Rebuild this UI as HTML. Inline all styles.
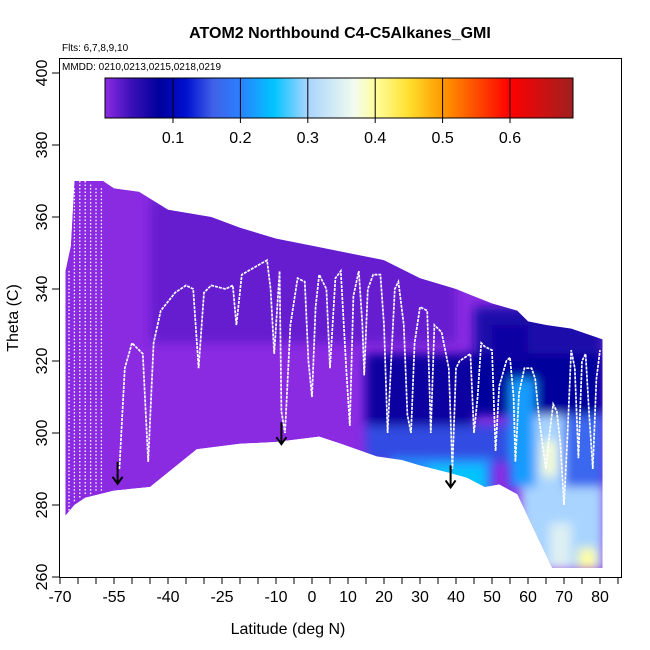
<!DOCTYPE html>
<html><head><meta charset="utf-8"><style>
html,body{margin:0;padding:0;background:#fff}
svg{display:block;font-family:"Liberation Sans",Arial,sans-serif}
</style></head><body>
<svg id="chart" width="650" height="650" viewBox="0 0 650 650">
<text x="340" y="38" text-anchor="middle" font-size="16" font-weight="bold">ATOM2 Northbound C4-C5Alkanes_GMI</text>
<text x="62" y="51" font-size="10">Flts: 6,7,8,9,10</text>
<text x="62" y="70" font-size="10">MMDD: 0210,0213,0215,0218,0219</text>
<text x="288" y="634" text-anchor="middle" font-size="16">Latitude (deg N)</text>
<text transform="translate(18,318) rotate(-90)" text-anchor="middle" font-size="16">Theta (C)</text>
<g id="plot"></g>
</svg>
<script>
const colorStops=[0,0.04,0.08,0.12,0.16,0.2,0.25,0.3,0.37,0.4,0.45,0.5,0.6,0.7];
const colorHex=["#8a2be2","#3a10b8","#00009c","#0010d0","#4060e8","#2a80ff","#00c4ff","#a8d4ff","#f2fbee","#ffffa0","#ffe030","#ff9a00","#ff0000","#a02020"];
const upperLat=[-68.5,-67,-66,-58,-55,-48,-40,-28,-20,-10,0,10,20,30,40,50,57,60,65,72,80.7];
const upperTh=[345,352,370,370,368,367,362,360,357,354,352,350,348,343,340,336,334,331,330,329,326];
const lowerLat=[80.7,66.7,57,52,48,43,38,30,25,18,8,2,-10,-20,-32,-45,-55,-63,-66,-68.5];
const lowerTh=[262.5,262.5,283,285.7,285,287.6,289,291,292.5,293.5,297,299,297.5,297,295.5,285,284,282,280,277];
// cells: lat0, lat1, theta0, theta1, value
const cellLat0=[-45,15,15,22,32,45,45,55,62,64,70,58,66,74,50];
const cellLat1=[ 40,45,55,50,48,81,81,62,70,68,81,81,72,79,60];
const cellTh0 =[325,302,292,280,280,305,322,285,285,288,285,262,262,262,320];
const cellTh1 =[365,322,302,293,291,322,335,315,305,298,305,285,275,268,330];
const cellVal =[0.018,0.075,0.15,0.21,0.25,0.08,0.06,0.22,0.3,0.38,0.17,0.3,0.35,0.4,0.07];
const trackLat=[-53.5,-52,-50,-47,-45.5,-44,-42,-38,-35,-33,-31.5,-30,-28,-24,-22,-21,-19.5,-16,-12.5,-11.5,-10.5,-9,-8.5,-7.5,-6,-4,-2,-1,0,1,2,4,5,6.5,8,9.5,10.5,11.5,13,14,14.5,15.5,17,19,20,21,22,23,24,25.5,26.5,27.5,28.5,30,32,33,34,36,38,39,40,41,44,45,46,47,48,50,51,52,54,55,56,56.5,57.5,59,61,62,63,64,65,66,67,68,69,70,71,72,73,74,75,76,77,78,79,80];
const trackTh=[290,318,325,322,292,325,334,339,341,340,318,339,341,340,341,330,344,346,348,340,322,345,306,300,330,343,342,320,310,335,344,340,318,343,345,318,302,338,345,330,316,340,344,344,330,300,320,340,342,330,305,300,325,335,334,300,330,328,318,290,318,320,322,300,310,325,324,323,295,313,320,321,310,292,311,318,318,315,305,297,290,300,308,306,297,280,300,323,318,293,320,322,305,290,315,323];
const leftProfLat=[-67.5,-66,-64.5,-63,-61.5,-60,-58.5];
const leftProfTop=[345,368,370,370,369,368,368];
const leftProfBot=[278,281,282,283,283,284,284];
const arrowLat=[-54,-8.5,38.5];
const arrowTop=[292,303,291];
const xTickLabels=[-70,-55,-40,-25,-10,0,10,20,30,40,50,60,70,80];
const yTickLabels=[260,280,300,320,340,360,380,400];
const cbTicks=[0.1,0.2,0.3,0.4,0.5,0.6];

const NS="http://www.w3.org/2000/svg";
const X=lat=>60+(lat+70)*3.6;
const Y=th=>577-(th-260)*3.6;
const CB=v=>105.6+v*674;
function hex2rgb(h){return [1,3,5].map(i=>parseInt(h.substr(i,2),16));}
function color(v){
  if(v<=colorStops[0])return colorHex[0];
  for(let i=1;i<colorStops.length;i++){if(v<=colorStops[i]){const t=(v-colorStops[i-1])/(colorStops[i]-colorStops[i-1]);const a=hex2rgb(colorHex[i-1]),b=hex2rgb(colorHex[i]);return "rgb("+a.map((c,k)=>Math.round(c+(b[k]-c)*t)).join(",")+")";}}
  return colorHex[colorHex.length-1];
}
function mk(tag,attrs,parent){const e=document.createElementNS(NS,tag);for(const k in attrs)e.setAttribute(k,attrs[k]);parent.appendChild(e);return e;}
const plot=document.getElementById('plot');
const defs=mk('defs',{},plot);
const cp=mk('clipPath',{id:'region'},defs);
const flt=mk('filter',{id:'soft',x:'-10%',y:'-10%',width:'120%',height:'120%'},defs);
mk('feGaussianBlur',{stdDeviation:5},flt);
let pts=upperLat.map((l,i)=>X(l)+","+Y(upperTh[i])).concat(lowerLat.map((l,i)=>X(l)+","+Y(lowerTh[i]))).join(" ");
mk('polygon',{points:pts},cp);
const hm=mk('g',{'clip-path':'url(#region)'},plot);


const base=mk('polygon',{points:pts,fill:color(0)},hm);


const cg=mk('g',{filter:'url(#soft)'},hm);
for(let i=0;i<cellVal.length;i++){
  const r=mk('rect',{x:X(cellLat0[i]),y:Y(cellTh1[i]),width:X(cellLat1[i])-X(cellLat0[i]),height:Y(cellTh0[i])-Y(cellTh1[i]),fill:color(cellVal[i])},cg);
  
  
}
for(let i=0;i<leftProfLat.length;i++){
  const l=mk('line',{x1:X(leftProfLat[i]),x2:X(leftProfLat[i]),y1:Y(leftProfTop[i]),y2:Y(leftProfBot[i]),stroke:'#fff','stroke-width':1.3,'stroke-dasharray':'1.5,2'},plot);
  
  
}
const tr=mk('polyline',{points:trackLat.map((l,i)=>X(l)+","+Y(trackTh[i])).join(" "),fill:'none',stroke:'#fff','stroke-width':1.7,'stroke-dasharray':'3,1'},plot);


for(let i=0;i<arrowLat.length;i++){
  const g=mk('g',{stroke:'#000','stroke-width':2,fill:'none'},plot);
  
  
  const x=X(arrowLat[i]),y1=Y(arrowTop[i]),y2=y1+22;
  mk('line',{x1:x,x2:x,y1:y1,y2:y2},g);
  mk('polyline',{points:(x-5)+","+(y2-7)+" "+x+","+y2+" "+(x+5)+","+(y2-7)},g);
}
// colorbar
const grad=mk('linearGradient',{id:'cbg',x1:0,x2:1,y1:0,y2:0},defs);
colorStops.forEach((s,i)=>mk('stop',{offset:(s/0.694),'stop-color':colorHex[i]},grad));
const cb=mk('rect',{x:105,y:78,width:468,height:40,fill:'url(#cbg)',stroke:'#000','stroke-width':1},plot);


cbTicks.forEach(v=>{
  const l=mk('line',{x1:CB(v),x2:CB(v),y1:78,y2:123,stroke:'#000','stroke-width':1},plot);
  
  
  const t=mk('text',{x:CB(v),y:143,'text-anchor':'middle','font-size':16},plot);
  t.textContent=v.toFixed(1);
  
  
});
// frame
const fr=mk('rect',{x:59.5,y:58.5,width:562,height:519,fill:'none',stroke:'#000','stroke-width':1},plot);


for(let l=-70;l<=85;l+=5){
  const t=mk('line',{x1:X(l),x2:X(l),y1:577,y2:584,stroke:'#000'},plot);
  
  
}
xTickLabels.forEach(v=>{
  const t=mk('text',{x:X(v),y:602,'text-anchor':'middle','font-size':16},plot);
  t.textContent=v;
  
  
});
yTickLabels.forEach(v=>{
  const l=mk('line',{x1:52,x2:59,y1:Y(v),y2:Y(v),stroke:'#000'},plot);
  
  
  const t=mk('text',{transform:'translate(47,'+Y(v)+') rotate(-90)','text-anchor':'middle','font-size':16},plot);
  t.textContent=v;
  
  
});
</script>
</body></html>
